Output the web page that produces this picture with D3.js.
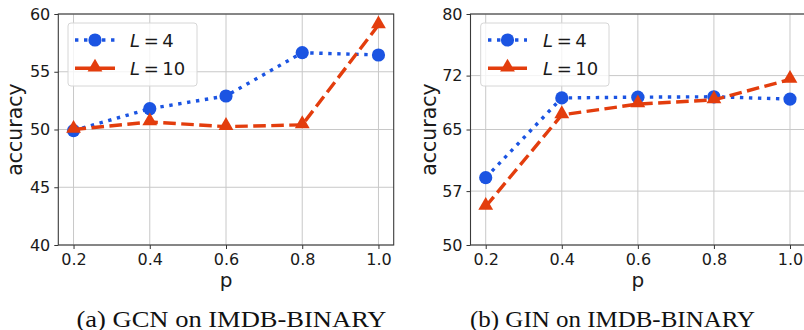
<!DOCTYPE html>
<html><head><meta charset="utf-8">
<script src="https://cdn.jsdelivr.net/npm/d3@7"></script>
<style>body{margin:0;background:#fff}svg{display:block}</style>
</head><body>
<svg id="c" width="804" height="330"></svg>
<script>
const pValues = [0.2, 0.4, 0.6, 0.8, 1.0];
const xTicks = [0.2, 0.4, 0.6, 0.8, 1.0];
const gcnL4 = [49.9, 51.8, 52.9, 56.65, 56.45];
const gcnL10 = [50.0, 50.65, 50.25, 50.4, 59.05];
const ginL4 = [58.75, 69.1, 69.2, 69.25, 68.95];
const ginL10 = [55.0, 66.9, 68.3, 68.85, 71.5];
const gcnYTicks = [40, 45, 50, 55, 60];
const ginYTicks = [50, 57, 65, 72, 80];
const seriesNames = ["L = 4", "L = 10"];
const captions = ["(a) GCN on IMDB-BINARY", "(b) GIN on IMDB-BINARY"];

const BLUE = "#1b54e2", RED = "#e33d0d";
const LW = 3.4;
const svg = d3.select("#c");

const panels = [
  {x0: 58.3, x1: 393.7, yDom: [40, 60], yTicks: gcnYTicks, s4: gcnL4, s10: gcnL10, cap: captions[0], capX: 231.5, labX: 22, leg: {x: 68, w: 129, lx0: 75, lx1: 115, tx: 130}},
  {x0: 470.5, x1: 805.2, yDom: [50, 80], yTicks: ginYTicks, s4: ginL4, s10: ginL10, cap: captions[1], capX: 612.5, labX: 436, leg: {x: 480.7, w: 128.3, lx0: 488, lx1: 527, tx: 543}}
];
const yTop = 14, yBot = 245;

panels.forEach(P => {
  const x = d3.scaleLinear().domain([0.16, 1.04]).range([P.x0, P.x1]);
  const y = d3.scaleLinear().domain(P.yDom).range([yBot, yTop]);
  const g = svg.append("g");

  // grid
  g.selectAll(".gx").data(xTicks).join("line")
    .attr("x1", d => x(d)).attr("x2", d => x(d)).attr("y1", yTop).attr("y2", yBot)
    .attr("stroke", "#c8c8c8").attr("stroke-width", 1);
  g.selectAll(".gy").data(P.yTicks).join("line")
    .attr("x1", P.x0).attr("x2", P.x1).attr("y1", d => y(d)).attr("y2", d => y(d))
    .attr("stroke", "#c8c8c8").attr("stroke-width", 1);

  // axes
  const xa = g.append("g").attr("transform", `translate(0,${yBot})`)
    .call(d3.axisBottom(x).tickValues(xTicks).tickFormat(d3.format(".1f")).tickSizeOuter(0).tickSize(4).tickPadding(4));
  const ya = g.append("g").attr("transform", `translate(${P.x0},0)`)
    .call(d3.axisLeft(y).tickValues(P.yTicks).tickFormat(d3.format("d")).tickSizeOuter(0).tickSize(4).tickPadding(4));
  [xa, ya].forEach(a => {
    a.select(".domain").remove();
    a.selectAll("line").attr("stroke", "#333");
    a.selectAll("text").attr("font-family", "DejaVu Sans").attr("font-size", 16).attr("fill", "#1a1a1a");
  });
  xa.selectAll("text").attr("dy", "0.75em");

  // spines
  g.append("rect").attr("x", P.x0).attr("y", yTop).attr("width", P.x1 - P.x0).attr("height", yBot - yTop)
    .attr("fill", "none").attr("stroke", "#3a3a3a").attr("stroke-width", 1.1);

  // axis labels
  g.append("text").attr("x", (P.x0 + P.x1) / 2).attr("y", 287).attr("text-anchor", "middle")
    .attr("font-family", "DejaVu Sans").attr("font-size", 20).attr("fill", "#1a1a1a").text("p");
  g.append("text").attr("transform", `translate(${P.labX},${(yTop + yBot) / 2}) rotate(-90)`)
    .attr("text-anchor", "middle").attr("font-family", "DejaVu Sans").attr("font-size", 20.5).attr("fill", "#1a1a1a").text("accuracy");

  // caption
  svg.append("text").attr("x", P.capX).attr("y", 327).attr("text-anchor", "middle")
    .attr("font-family", "Liberation Serif").attr("font-size", 24).attr("fill", "#111")
    .attr("textLength", P === panels[0] ? 310 : 285).attr("lengthAdjust", "spacingAndGlyphs").text(P.cap);

  const line = d3.line().x((d, i) => x(pValues[i])).y(d => y(d));
  const tri = d3.symbol().type(d3.symbolTriangle).size(95);

  // L=4
  g.append("path").datum(P.s4).attr("d", line).attr("fill", "none").attr("stroke", BLUE)
    .attr("stroke-width", LW).attr("stroke-dasharray", `${LW} ${LW * 1.65}`);
  g.selectAll(".c4").data(P.s4).join("circle").attr("cx", (d, i) => x(pValues[i])).attr("cy", d => y(d))
    .attr("r", 6.6).attr("fill", BLUE);
  // L=10
  g.append("path").datum(P.s10).attr("d", line).attr("fill", "none").attr("stroke", RED)
    .attr("stroke-width", LW).attr("stroke-dasharray", `${LW * 3.7} ${LW * 1.6}`);
  g.selectAll(".t10").data(P.s10).join("path")
    .attr("transform", (d, i) => `translate(${x(pValues[i])},${y(d) - 1})`).attr("d", tri).attr("fill", RED);

  // legend
  const L = P.leg;
  g.append("rect").attr("x", L.x).attr("y", 23).attr("width", L.w).attr("height", 63).attr("rx", 3)
    .attr("fill", "rgba(255,255,255,0.8)").attr("stroke", "#d6d6d6").attr("stroke-width", 1);
  const rows = [
    {name: seriesNames[0], yy: 40, color: BLUE, dash: `${LW} ${LW * 1.65}`, mk: "c"},
    {name: seriesNames[1], yy: 68.3, color: RED, dash: null, mk: "t"}
  ];
  rows.forEach(r => {
    const ln = g.append("line").attr("x1", L.lx0).attr("x2", L.lx1).attr("y1", r.yy).attr("y2", r.yy)
      .attr("stroke", r.color).attr("stroke-width", LW);
    if (r.dash) ln.attr("stroke-dasharray", r.dash).attr("stroke-dashoffset", 0);
    const mx = (L.lx0 + L.lx1) / 2;
    if (r.mk === "c") g.append("circle").attr("cx", mx).attr("cy", r.yy).attr("r", 6.6).attr("fill", r.color);
    else g.append("path").attr("transform", `translate(${mx},${r.yy - 1})`).attr("d", tri).attr("fill", r.color);
    const parts = r.name.split(" = ");
    const t = g.append("text").attr("x", L.tx).attr("y", r.yy + 6.5)
      .attr("font-family", "DejaVu Sans").attr("font-size", 18).attr("fill", "#1a1a1a");
    t.append("tspan").attr("font-style", "italic").text(parts[0]);
    t.append("tspan").text("\u2009=\u2009" + parts[1]);
  });
});
</script>
</body></html>
